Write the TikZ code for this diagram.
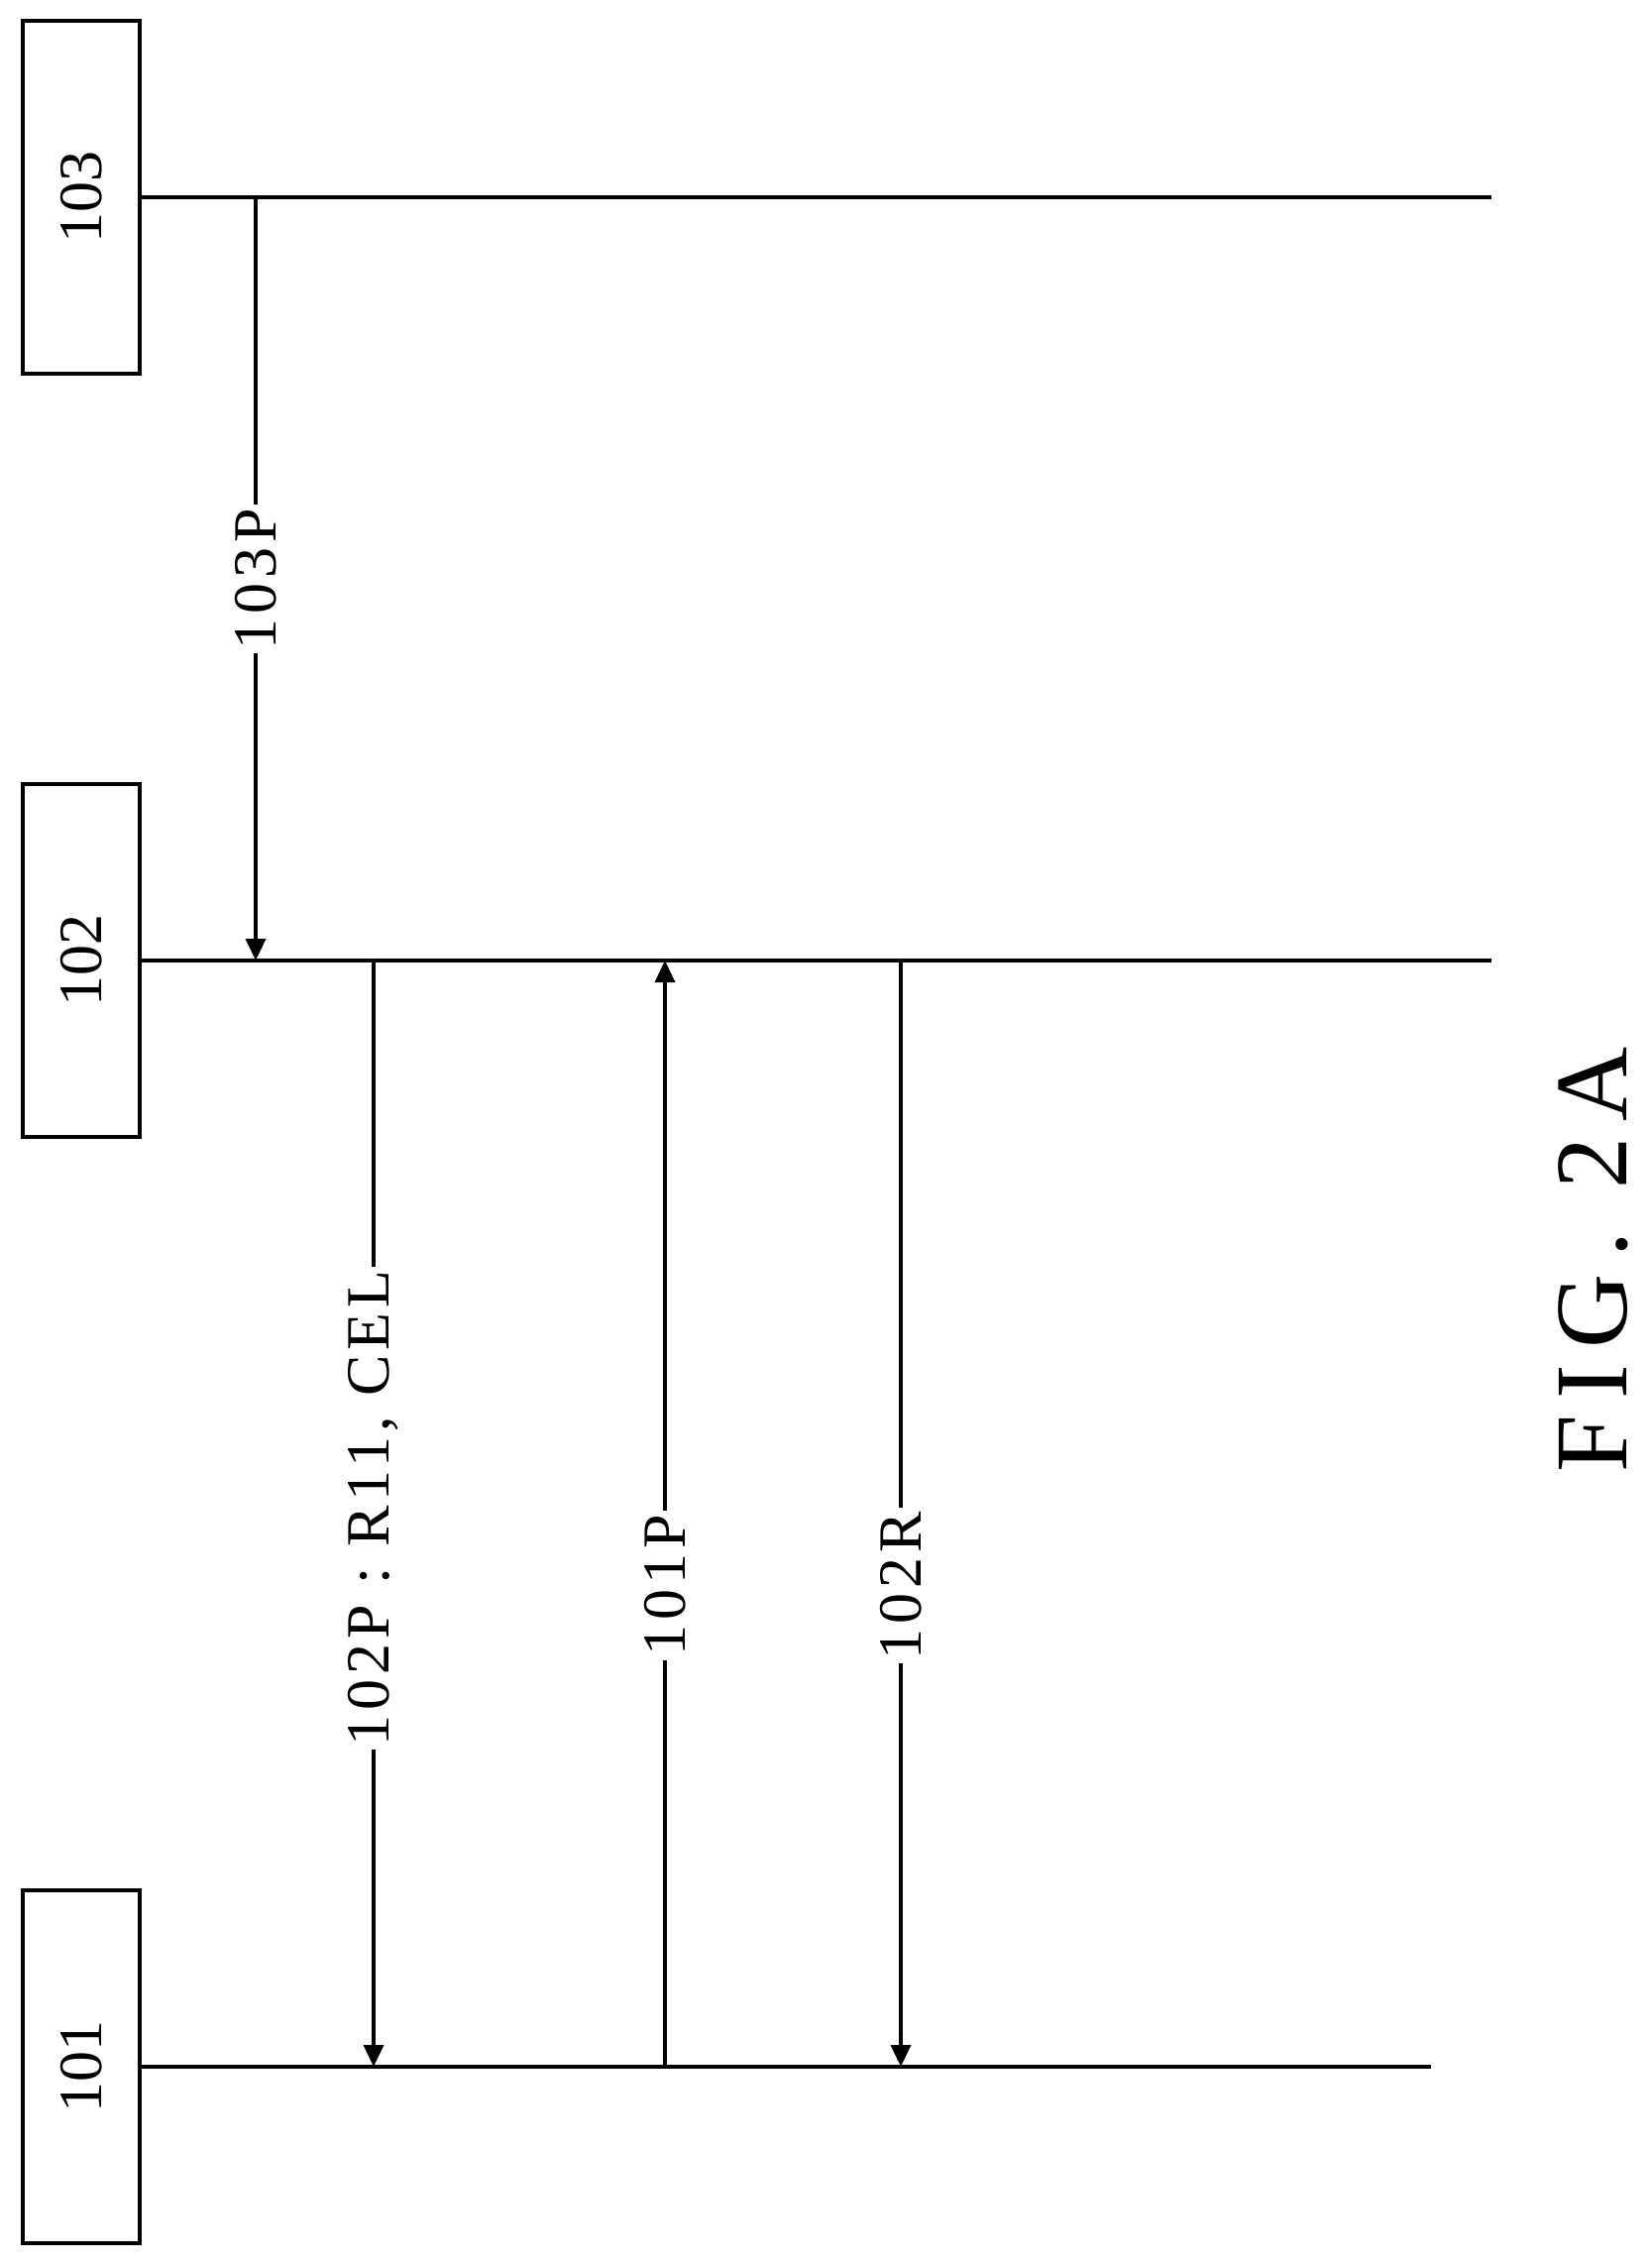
\documentclass[tikz,border=0pt]{standalone}
\usepackage{fontspec}
\setmainfont{Liberation Serif}
\usetikzlibrary{arrows.meta}
\begin{document}
\begin{tikzpicture}[x=1pt,y=-1pt,line width=3.5pt,
  ent/.style={draw,minimum width=118pt,minimum height=356pt,inner sep=0pt},
  lbl/.style={fill=white,rotate=90,font=\fontsize{62}{70}\selectfont\addfontfeature{LetterSpace=8},inner sep=4pt},
  msg/.style={-{Triangle[length=22pt,width=20pt]}}]
\useasboundingbox (0,0) rectangle (1666,2284);
\node[ent] (b103) at (82,199) {};
\node[rotate=90,font=\fontsize{62}{70}\selectfont] at (b103) {103};
\node[ent] (b102) at (82,969) {};
\node[rotate=90,font=\fontsize{62}{70}\selectfont] at (b102) {102};
\node[ent] (b101) at (82,2085) {};
\node[rotate=90,font=\fontsize{62}{70}\selectfont] at (b101) {101};
\coordinate (e103) at (1505,199);
\coordinate (e102) at (1505,969);
\coordinate (e101) at (1444,2085);
\draw (b103.east) -- (e103);
\draw (b102.east) -- (e102);
\draw (b101.east) -- (e101);
\coordinate (s1) at (258,199); \coordinate (t1) at (258,969);
\coordinate (s2) at (377,969); \coordinate (t2) at (377,2085);
\coordinate (s3) at (671,2085); \coordinate (t3) at (671,969);
\coordinate (s4) at (909,969); \coordinate (t4) at (909,2085);
\draw[msg] (s1) -- node[lbl,pos=0.5] {103P} (t1);
\draw[msg] (s2) -- node[lbl,pos=0.495] {102P : R11, CEL} (t2);
\draw[msg] (s3) -- node[lbl,pos=0.435] {101P} (t3);
\draw[msg] (s4) -- node[lbl,pos=0.565] {102R} (t4);
\node[rotate=90,inner sep=0pt,font=\fontsize{104}{120}\selectfont\addfontfeature{LetterSpace=16}] (fig) at (1608,1271) {FIG. 2A};
\end{tikzpicture}
\end{document}
